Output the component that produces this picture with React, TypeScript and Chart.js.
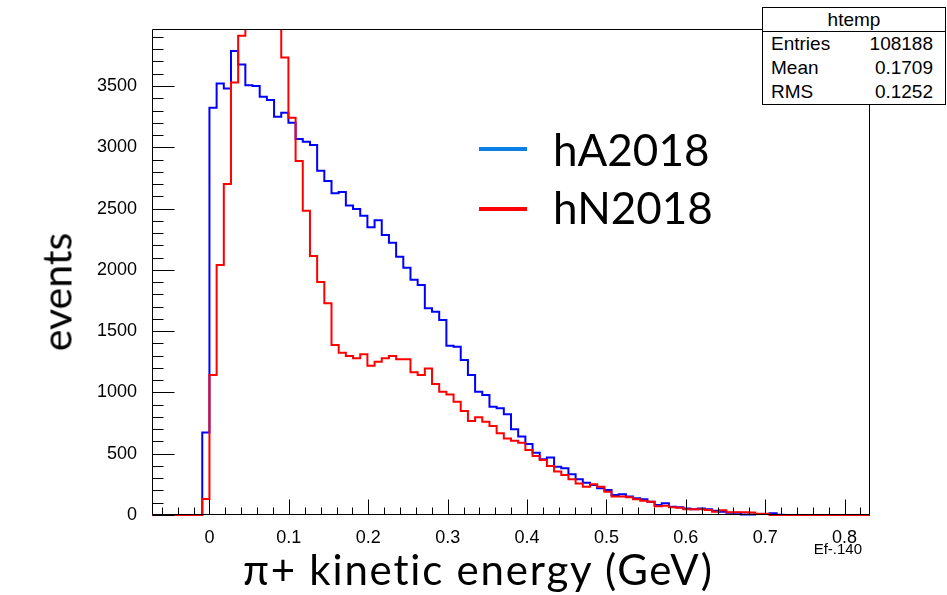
import React, { useEffect, useRef } from "react";
import { Chart, registerables } from "chart.js";

Chart.register(...registerables);

// Histogram range (100 bins, as in the ROOT htemp histogram)
const X_MIN = -0.0724;
const X_MAX = 0.832;
const Y_MAX = 3965;

// Bin contents (events per bin)
const HA2018_COUNTS = [
  0, 0, 0, 0, 0, 0, 0, 674, 3323, 3521,
  3480, 3785, 3676, 3507, 3499, 3412, 3385, 3249, 3282, 3200,
  3067, 3045, 3018, 2809, 2724, 2624, 2635, 2526, 2496, 2441,
  2347, 2404, 2284, 2221, 2107, 2017, 1919, 1876, 1686, 1658,
  1591, 1381, 1373, 1264, 1142, 1006, 979, 884, 870, 821,
  699, 640, 579, 508, 454, 470, 394, 381, 332, 291,
  264, 245, 218, 204, 163, 169, 150, 136, 128, 109,
  82, 95, 68, 63, 54, 46, 54, 46, 35, 27,
  19, 19, 5, 5, 8, 8, 14, 3, 0, 0,
  0, 0, 0, 0, 0, 0, 0, 0, 0, 0,
];

const HN2018_COUNTS = [
  0, 0, 0, 0, 0, 0, 0, 130, 1142, 2039,
  2700, 3529, 3910, 4300, 4450, 4400, 4250, 4050, 3733, 3241,
  2888, 2482, 2113, 1900, 1727, 1387, 1324, 1297, 1278, 1311,
  1218, 1250, 1278, 1297, 1270, 1270, 1164, 1142, 1196, 1068,
  1006, 984, 924, 848, 767, 797, 761, 726, 666, 625,
  606, 590, 530, 481, 449, 400, 354, 326, 291, 258,
  231, 250, 231, 190, 150, 150, 145, 128, 117, 109,
  72, 75, 63, 60, 46, 46, 46, 41, 27, 38,
  22, 22, 22, 20, 11, 11, 0, 0, 0, 0,
  0, 0, 0, 0, 0, 0, 0, 0, 0, 0,
];

const X_TICKS = [0, 0.1, 0.2, 0.3, 0.4, 0.5, 0.6, 0.7, 0.8];
const X_TICK_LABELS = ["0", "0.1", "0.2", "0.3", "0.4", "0.5", "0.6", "0.7", "0.8"];
const Y_TICKS = [0, 500, 1000, 1500, 2000, 2500, 3000, 3500];
const Y_TICK_LABELS = ["0", "500", "1000", "1500", "2000", "2500", "3000", "3500"];
const X_MINOR_STEP = 0.02;
const Y_MINOR_STEP = 100;

const STATS_TITLE = "htemp";
const STATS_NAMES = ["Entries", "Mean", "RMS"];
const STATS_VALUES = ["108188", "0.1709", "0.1252"];

const SERIES_NAMES = ["hA2018", "hN2018"];
const X_TITLE = "π+ kinetic energy (GeV)";
const Y_TITLE = "events";
const X_EXPR = "Ef-.140";

function toSteps(values: number[]) {
  const w = (X_MAX - X_MIN) / values.length;
  const pts = values.map((v, i) => ({ x: X_MIN + i * w, y: v }));
  pts.push({ x: X_MAX, y: values[values.length - 1] });
  return pts;
}

const rootAxesPlugin = {
  id: "rootAxes",
  afterDatasetsDraw(chart: any) {
    const { ctx, chartArea: a, scales } = chart;
    const xs = scales.x;
    const ys = scales.y;
    ctx.save();
    ctx.strokeStyle = "#000";
    ctx.lineWidth = 1;
    ctx.beginPath();
    const L = Math.round(a.left) + 0.5;
    const R = Math.round(a.right) - 0.5;
    const T = Math.round(a.top) + 0.5;
    const B = Math.round(a.bottom) - 0.5;
    ctx.moveTo(L, T);
    ctx.lineTo(R, T);
    ctx.lineTo(R, B);
    ctx.lineTo(L, B);
    ctx.closePath();
    // y ticks (inside)
    const nY = Math.floor(Y_MAX / Y_MINOR_STEP);
    for (let k = 0; k <= nY; k++) {
      const v = k * Y_MINOR_STEP;
      const py = Math.round(ys.getPixelForValue(v)) + 0.5;
      const len = k % 5 === 0 ? 22 : 11;
      ctx.moveTo(L, py);
      ctx.lineTo(L + len, py);
    }
    // x ticks (inside)
    const k0 = Math.ceil(X_MIN / X_MINOR_STEP);
    const k1 = Math.floor(X_MAX / X_MINOR_STEP);
    for (let k = k0; k <= k1; k++) {
      const v = k * X_MINOR_STEP;
      const px = Math.round(xs.getPixelForValue(v)) + 0.5;
      const len = k % 5 === 0 ? 15 : 7;
      ctx.moveTo(px, B);
      ctx.lineTo(px, B - len);
    }
    ctx.stroke();
    ctx.restore();
  },
};

export default function App() {
  const canvasRef = useRef<HTMLCanvasElement | null>(null);

  useEffect(() => {
    const canvas = canvasRef.current;
    if (!canvas) return;
    const tickFont = { family: '"Liberation Sans", Arial, sans-serif', size: 18 };
    const chart = new Chart(canvas, {
      type: "line",
      data: {
        datasets: [
          {
            label: SERIES_NAMES[0],
            data: toSteps(HA2018_COUNTS),
            borderColor: "#0000ff",
            borderWidth: 2,
            pointRadius: 0,
            stepped: "before",
            fill: false,
            order: 2,
            clip: { left: 2, right: 2, top: 0, bottom: 3 } as any,
          },
          {
            label: SERIES_NAMES[1],
            data: toSteps(HN2018_COUNTS),
            borderColor: "#ff0000",
            borderWidth: 2,
            pointRadius: 0,
            stepped: "before",
            fill: false,
            order: 1,
            clip: { left: 2, right: 2, top: 0, bottom: 3 } as any,
          },
        ],
      },
      options: {
        animation: false,
        responsive: false,
        devicePixelRatio: 1,
        parsing: false,
        normalized: true,
        layout: { padding: { top: 29, right: 77, left: 0, bottom: 0 } },
        plugins: {
          legend: { display: false },
          tooltip: { enabled: false },
          title: { display: false },
        },
        scales: {
          x: {
            type: "linear",
            min: X_MIN,
            max: X_MAX,
            grid: { display: false },
            border: { display: false },
            afterBuildTicks: (scale: any) => {
              scale.ticks = X_TICKS.map((value) => ({ value }));
            },
            afterFit: (scale: any) => {
              scale.height = 80;
            },
            ticks: {
              font: tickFont,
              color: "#000",
              padding: 4,
              maxRotation: 0,
              autoSkip: false,
              callback: (_v: any, i: number) => X_TICK_LABELS[i],
            },
          },
          y: {
            type: "linear",
            min: 0,
            max: Y_MAX,
            grid: { display: false },
            border: { display: false },
            afterBuildTicks: (scale: any) => {
              scale.ticks = Y_TICKS.map((value) => ({ value }));
            },
            afterFit: (scale: any) => {
              scale.width = 152;
            },
            ticks: {
              font: tickFont,
              color: "#000",
              padding: 7,
              autoSkip: false,
              callback: (_v: any, i: number) => Y_TICK_LABELS[i],
            },
          },
        },
      },
      plugins: [rootAxesPlugin],
    } as any);
    return () => chart.destroy();
  }, []);

  const sans = '"Liberation Sans", Arial, sans-serif';
  const big = 'Lato, "Open Sans", sans-serif';

  return (
    <div
      style={{
        position: "fixed",
        left: 0,
        top: 0,
        width: 947,
        height: 595,
        background: "#fff",
        overflow: "hidden",
      }}
    >
      <canvas
        ref={canvasRef}
        width={947}
        height={595}
        style={{ position: "absolute", left: 0, top: 0, width: 947, height: 595 }}
      />
      {/* stats box */}
      <div
        style={{
          position: "absolute",
          left: 762,
          top: 7,
          width: 184,
          boxSizing: "border-box",
          border: "1px solid #000",
          background: "#fff",
          fontFamily: sans,
          fontSize: 19,
          color: "#000",
        }}
      >
        <div
          style={{
            height: 23,
            lineHeight: "24px",
            textAlign: "center",
            borderBottom: "1px solid #000",
          }}
        >
          {STATS_TITLE}
        </div>
        {STATS_NAMES.map((n, i) => (
          <div
            key={n}
            style={{
              height: 24,
              lineHeight: "24px",
              display: "flex",
              justifyContent: "space-between",
              padding: "0 12px 0 8px",
            }}
          >
            <span>{n}</span>
            <span>{STATS_VALUES[i]}</span>
          </div>
        ))}
      </div>
      {/* legend */}
      <div style={{ position: "absolute", left: 479, top: 147, width: 48, height: 4, background: "#0a7fe6" }} />
      <div style={{ position: "absolute", left: 479, top: 207, width: 48, height: 4, background: "#ff0000" }} />
      <div
        style={{
          position: "absolute",
          left: 553,
          top: 127,
          fontFamily: big,
          fontSize: 44,
          lineHeight: "44px",
          color: "#000",
          whiteSpace: "nowrap",
        }}
      >
        {SERIES_NAMES[0]}
      </div>
      <div
        style={{
          position: "absolute",
          left: 553,
          top: 185,
          fontFamily: big,
          fontSize: 44,
          lineHeight: "44px",
          color: "#000",
          whiteSpace: "nowrap",
        }}
      >
        {SERIES_NAMES[1]}
      </div>
      {/* axis titles */}
      <div
        style={{
          position: "absolute",
          left: 243,
          top: 548,
          fontFamily: big,
          fontSize: 42,
          lineHeight: "42px",
          letterSpacing: "1.8px",
          fontVariantLigatures: "none",
          color: "#000",
          whiteSpace: "nowrap",
        }}
      >
        {X_TITLE}
      </div>
      <div
        style={{
          position: "absolute",
          left: 56,
          top: 292,
          fontFamily: big,
          fontSize: 41,
          lineHeight: "41px",
          color: "#000",
          whiteSpace: "nowrap",
          transform: "translate(-50%, -50%) rotate(-90deg)",
        }}
      >
        {Y_TITLE}
      </div>
      <div
        style={{
          position: "absolute",
          left: 762,
          width: 100,
          top: 541,
          textAlign: "right",
          fontFamily: sans,
          fontSize: 15,
          lineHeight: "16px",
          color: "#000",
        }}
      >
        {X_EXPR}
      </div>
    </div>
  );
}
